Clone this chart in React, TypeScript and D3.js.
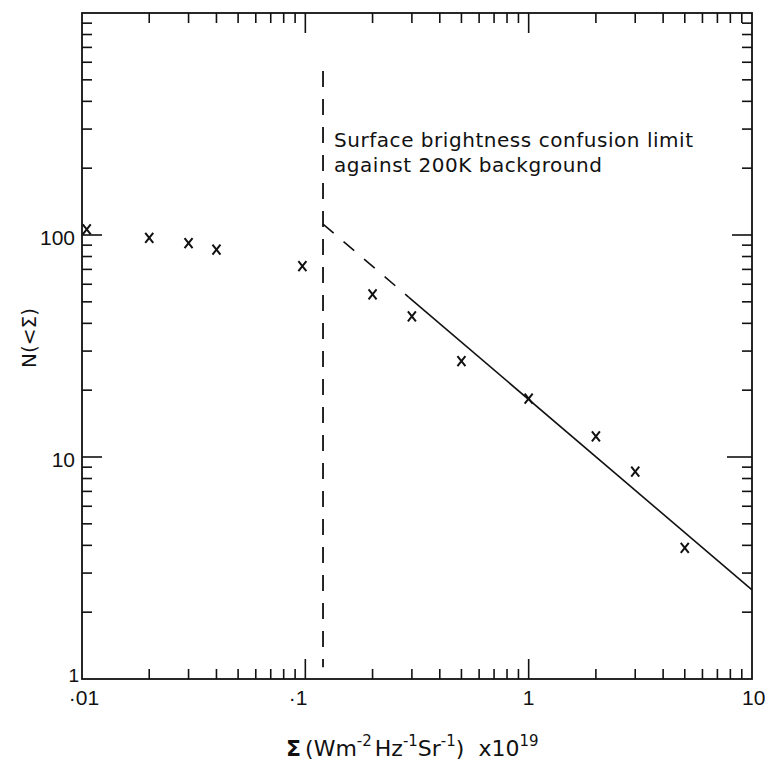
import React from "react";
import * as d3 from "d3";

// Cumulative surface-brightness counts N(<Σ) against Σ (×10^19 W m^-2 Hz^-1 sr^-1)
const sigmaValues = [0.0105, 0.02, 0.03, 0.04, 0.097, 0.2, 0.3, 0.5, 1.0, 2.0, 3.0, 5.0];
const countValues = [106, 97, 92, 86, 72.5, 54, 43, 27, 18.3, 12.4, 8.6, 3.9];

// Power-law fit: dashed below Σ≈0.29, solid above
const fitDashedX = [0.12, 0.29];
const fitDashedY = [112, 52.5];
const fitSolidX = [0.29, 10];
const fitSolidY = [52.5, 2.52];

// Surface brightness confusion limit
const limitSigma = 0.12;
const limitRange = [1.13, 548];

const xDomain = [0.01, 10];
const yDomain = [1, 1000];
const xTickLabels = ["·01", "·1", "1", "10"];
const xTickValues = [0.01, 0.1, 1, 10];
const yTickLabels = ["1", "10", "100"];
const yTickValues = [1, 10, 100];

const annotationLines = [
  "Surface brightness confusion limit",
  "against 200K background",
];

const W = 765;
const H = 761;
const NUM_FONT = "'Liberation Sans', Arial, sans-serif";
const TEXT_FONT = "'DejaVu Sans', Verdana, sans-serif";

export default function App() {
  const x = d3.scaleLog().domain(xDomain).range([82, 752]);
  const y = d3.scaleLog().domain(yDomain).range([679, 13]);
  const [x0, x1] = x.range();
  const [y0, y1] = y.range();

  const isMajor = (v: number) => Math.abs(Math.log10(v) - Math.round(Math.log10(v))) < 1e-9;
  const xTicks = x.ticks().filter((v) => v > xDomain[0] * 1.0001 && v < xDomain[1] * 0.9999);
  const yTicks = y.ticks().filter((v) => v > yDomain[0] * 1.0001 && v < yDomain[1] * 0.9999);

  const line = d3
    .line<[number, number]>()
    .x((d) => x(d[0]))
    .y((d) => y(d[1]));

  const dashed: [number, number][] = fitDashedX.map((v, i) => [v, fitDashedY[i]]);
  const solid: [number, number][] = fitSolidX.map((v, i) => [v, fitSolidY[i]]);

  const stroke = "#111";
  const minorLen = 10;
  const majorLen = 20;

  // horizontal placement tweaks for the x tick labels
  const xLabelAnchor: Record<string, { anchor: string; dx: number }> = {
    "·01": { anchor: "middle", dx: 2 },
    "·1": { anchor: "end", dx: 2 },
    "1": { anchor: "middle", dx: 0 },
    "10": { anchor: "start", dx: -10 },
  };

  const annX = x(limitSigma) + 11;

  return (
    <svg
      width={W}
      height={H}
      style={{ position: "absolute", left: 0, top: 0, background: "#fff" }}
      fontFamily={NUM_FONT}
    >
      <rect x={0} y={0} width={W} height={H} fill="#fff" />

      {/* frame */}
      <rect x={x0} y={y1} width={x1 - x0} height={y0 - y1} fill="none" stroke={stroke} strokeWidth={1.8} />

      {/* x ticks, bottom and top */}
      {xTicks.map((v) => {
        const len = isMajor(v) ? majorLen : minorLen;
        return (
          <g key={"xt" + v} stroke={stroke} strokeWidth={1.6}>
            <line x1={x(v)} x2={x(v)} y1={y0} y2={y0 - len} />
            <line x1={x(v)} x2={x(v)} y1={y1} y2={y1 + len} />
          </g>
        );
      })}

      {/* y ticks, left and right */}
      {yTicks.map((v) => {
        const len = isMajor(v) ? majorLen : minorLen;
        return (
          <g key={"yt" + v} stroke={stroke} strokeWidth={1.6}>
            <line x1={x0} x2={x0 + len} y1={y(v)} y2={y(v)} />
            <line x1={x1} x2={x1 - (v === 10 ? 25 : len)} y1={y(v)} y2={y(v)} />
          </g>
        );
      })}

      {/* x tick labels */}
      {xTickValues.map((v, i) => {
        const lab = xTickLabels[i];
        const a = xLabelAnchor[lab];
        return (
          <text key={"xl" + v} x={x(v) + a.dx} y={705} fontSize={21} textAnchor={a.anchor} fill={stroke}>
            {lab}
          </text>
        );
      })}

      {/* y tick labels */}
      {yTickValues.map((v, i) => (
        <text
          key={"yl" + v}
          x={v === 1 ? 79 : 75}
          y={y(v) + (v === 1 ? 3 : 10)}
          fontSize={v === 1 ? 19 : 21}
          textAnchor="end"
          fill={stroke}
        >
          {yTickLabels[i]}
        </text>
      ))}

      {/* axis titles */}
      <text
        transform="translate(36,338) rotate(-90)"
        fontSize={20}
        textAnchor="middle"
        fill={stroke}
        fontFamily={TEXT_FONT}
      >
        N(&lt;Σ)
      </text>
      <text x={286} y={756} fontSize={22} fill={stroke} fontFamily={TEXT_FONT}>
        <tspan fontSize={22} fontWeight="bold">Σ</tspan>
        <tspan dx={4}>(</tspan>
        <tspan>Wm</tspan>
        <tspan fontSize={15} dy={-10}>-2</tspan>
        <tspan dy={10} dx={3}>Hz</tspan>
        <tspan fontSize={15} dy={-10}>-1</tspan>
        <tspan dy={10}>Sr</tspan>
        <tspan fontSize={15} dy={-10}>-1</tspan>
        <tspan dy={10}>)</tspan>
        <tspan dx={14}>x10</tspan>
        <tspan fontSize={15} dy={-10}>19</tspan>
      </text>

      {/* confusion limit */}
      <line
        x1={x(limitSigma)}
        x2={x(limitSigma)}
        y1={y(limitRange[1])}
        y2={y(limitRange[0])}
        stroke={stroke}
        strokeWidth={1.8}
        strokeDasharray="16 12"
      />
      {annotationLines.map((t, i) => (
        <text
          key={"an" + i}
          x={annX}
          y={147 + i * 25}
          fontSize={20}
          fill={stroke}
          fontFamily={TEXT_FONT}
          textLength={i === 0 ? 359 : 268}
          lengthAdjust="spacing"
        >
          {t}
        </text>
      ))}

      {/* power-law fit */}
      <path d={line(dashed) ?? ""} fill="none" stroke={stroke} strokeWidth={1.6} strokeDasharray="14 13" />
      <path d={line(solid) ?? ""} fill="none" stroke={stroke} strokeWidth={1.6} />

      {/* data points */}
      {sigmaValues.map((s, i) => {
        const cx = x(s);
        const cy = y(countValues[i]);
        return (
          <path
            key={"pt" + i}
            d={`M${cx - 4},${cy - 5}L${cx + 4},${cy + 5}M${cx + 4},${cy - 5}L${cx - 4},${cy + 5}`}
            stroke={stroke}
            strokeWidth={2}
            fill="none"
          />
        );
      })}
    </svg>
  );
}
